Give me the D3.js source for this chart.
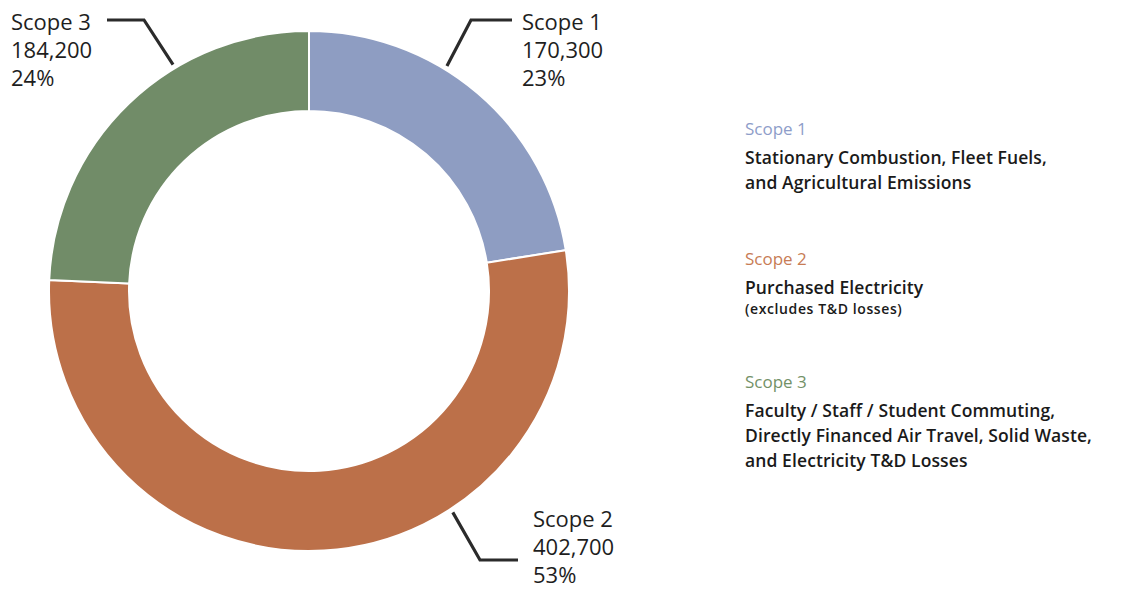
<!DOCTYPE html>
<html>
<head>
<meta charset="utf-8">
<script src="https://cdn.jsdelivr.net/npm/d3@7"></script>
<style>
  html, body { margin: 0; padding: 0; background: #fff; }
  svg { display: block; font-family: "Open Sans", "Noto Sans", sans-serif; }
</style>
</head>
<body>
<script>
var scopes = ["Scope 1", "Scope 2", "Scope 3"];
var emissions = [170300, 402700, 184200];
var percentLabels = ["23%", "53%", "24%"];
var descriptions = [
  ["Stationary Combustion, Fleet Fuels,", "and Agricultural Emissions"],
  ["Purchased Electricity"],
  ["Faculty / Staff / Student Commuting,", "Directly Financed Air Travel, Solid Waste,", "and Electricity T&D Losses"]
];
var notes = [null, "(excludes T&D losses)", null];

var colors = ["#8e9dc2", "#bc7049", "#718c68"];
var legendColors = ["#8e9dc9", "#c77c55", "#739167"];

var width = 1131, height = 590,
    cx = 309, cy = 291,
    outerR = 260, innerR = 180;

var svg = d3.select("body").append("svg")
  .attr("width", width)
  .attr("height", height);

var g = svg.append("g")
  .attr("transform", "translate(" + cx + "," + cy + ")");

var pie = d3.pie().sort(null).value(function(d) { return d; });
var arc = d3.arc().innerRadius(innerR).outerRadius(outerR);
var arcs = pie(emissions);

g.selectAll("path.slice")
  .data(arcs)
  .enter().append("path")
  .attr("class", "slice")
  .attr("d", arc)
  .attr("fill", function(d, i) { return colors[i]; })
  .attr("stroke", "#fff")
  .attr("stroke-width", 2);

// leader lines: angle on the ring where the line starts, elbow and end points
var leaders = [
  { angle: 31.5, elbow: [471, 20], end: [512, 20], text: [522, 30] },
  { angle: 147, elbow: [480, 560], end: [518, 560], text: [533, 527] },
  { angle: -31, elbow: [144, 20], end: [107, 20], text: [11, 30] }
];

leaders.forEach(function(l, i) {
  var p = d3.pointRadial(l.angle * Math.PI / 180, outerR + 4);
  var start = [cx + p[0], cy + p[1]];
  svg.append("path")
    .attr("d", d3.line()([start, l.elbow, l.end]))
    .attr("fill", "none")
    .attr("stroke", "#2b2b2b")
    .attr("stroke-width", 3.2);

  var t = svg.append("text")
    .attr("x", l.text[0])
    .attr("y", l.text[1])
    .attr("fill", "#1e1e1e")
    .style("font-size", "22px")
    .style("font-weight", 500);
  [scopes[i], d3.format(",")(emissions[i]), percentLabels[i]].forEach(function(s, j) {
    t.append("tspan")
      .attr("x", l.text[0])
      .attr("dy", j === 0 ? 0 : 28)
      .text(s);
  });
});

// legend
var legendX = 745;
var legendY = [135, 265, 388];

scopes.forEach(function(s, i) {
  var lg = svg.append("g").attr("transform", "translate(" + legendX + "," + legendY[i] + ")");
  lg.append("text")
    .attr("fill", legendColors[i])
    .style("font-size", "17px")
    .text(s);
  descriptions[i].forEach(function(line, j) {
    lg.append("text")
      .attr("y", 29 + j * 25)
      .attr("fill", "#1a1a1a")
      .style("font-size", "17.5px")
      .style("font-weight", 600)
      .style("letter-spacing", "0.1px")
      .text(line);
  });
  if (notes[i]) {
    lg.append("text")
      .attr("y", 29 + descriptions[i].length * 25 - 5)
      .attr("fill", "#1a1a1a")
      .style("font-size", "14px")
      .style("font-weight", 600)
      .style("letter-spacing", "0.6px")
      .text(notes[i]);
  }
});
</script>
</body>
</html>
